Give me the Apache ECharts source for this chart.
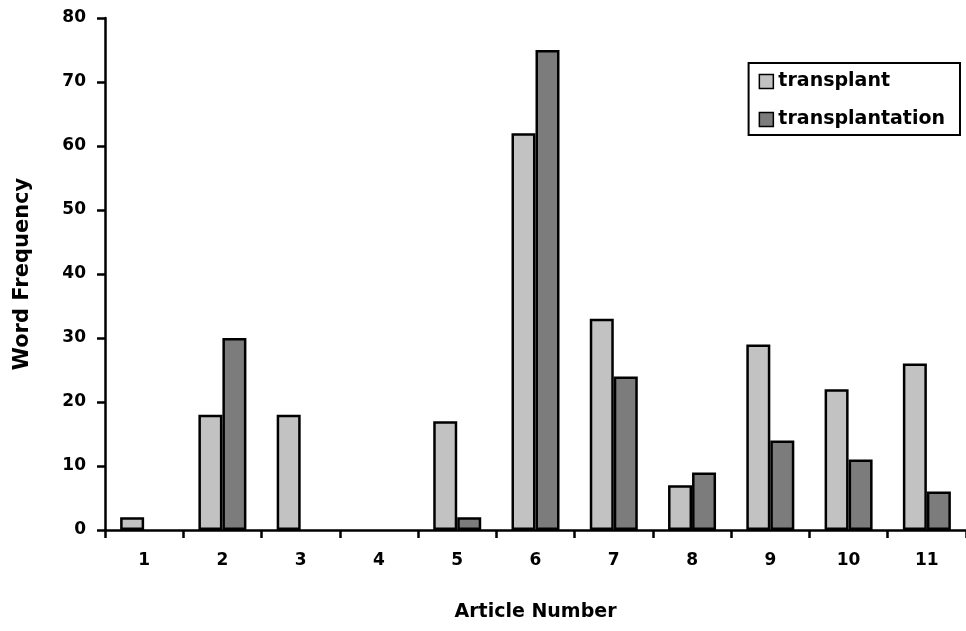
<!DOCTYPE html>
<html>
<head>
<meta charset="utf-8">
<script src="https://cdn.jsdelivr.net/npm/echarts@6/dist/echarts.min.js"></script>
<style>html,body{margin:0;padding:0;background:#fff;}#c{width:966px;height:631px;}</style>
</head>
<body>
<div id="c"></div>
<script>
const categories = ['1','2','3','4','5','6','7','8','9','10','11'];
const transplant = [2, 18, 18, 0, 17, 62, 33, 7, 29, 22, 26];
const transplantation = [0, 30, 0, 0, 2, 75, 24, 9, 14, 11, 6];
const yTicks = [0, 10, 20, 30, 40, 50, 60, 70, 80];

// zero-height bars are not drawn in the reference, so hide their outline
const toBarData = arr => arr.map(v => v === 0 ? {value: v, itemStyle: {borderWidth: 0, opacity: 0}} : v);

const font = '"DejaVu Sans", sans-serif';
const chart = echarts.init(document.getElementById('c'), null, {renderer: 'canvas'});
chart.setOption({
  animation: false,
  backgroundColor: '#fff',
  grid: {left: 105, right: -10, top: 18, bottom: 101, containLabel: false},
  legend: {
    right: 6, top: 63,
    orient: 'vertical',
    borderColor: '#000', borderWidth: 2,
    padding: [9, 15, 6, 10],
    itemGap: 19,
    itemWidth: 14, itemHeight: 14,
    icon: 'rect',
    textStyle: {fontFamily: font, fontWeight: 'bold', fontSize: 19, color: '#000', padding: [0,0,0,0]},
    data: [
      {name: 'transplant', itemStyle: {borderColor: '#000', borderWidth: 1.5}},
      {name: 'transplantation', itemStyle: {borderColor: '#000', borderWidth: 1.5}}
    ]
  },
  xAxis: {
    type: 'category',
    data: categories,
    name: 'Article Number',
    nameLocation: 'middle',
    nameGap: 73,
    nameTextStyle: {fontFamily: font, fontWeight: 'bold', fontSize: 19, color: '#000'},
    axisLine: {lineStyle: {color: '#000', width: 2.5}},
    axisTick: {show: true, alignWithLabel: false, length: 8, lineStyle: {color: '#000', width: 2.5}},
    axisLabel: {fontFamily: font, fontWeight: 'bold', fontSize: 17, color: '#000', margin: 22}
  },
  yAxis: {
    type: 'value',
    min: 0, max: 80, interval: 10,
    name: 'Word Frequency',
    nameLocation: 'middle',
    nameGap: 72,
    nameTextStyle: {fontFamily: font, fontWeight: 'bold', fontSize: 21, color: '#000'},
    axisLine: {show: true, lineStyle: {color: '#000', width: 2.5}},
    axisTick: {show: true, length: 8, lineStyle: {color: '#000', width: 2.5}},
    splitLine: {show: false},
    axisLabel: {fontFamily: font, fontWeight: 'bold', fontSize: 17, color: '#000', margin: 19,
      formatter: v => yTicks.includes(v) ? String(v) : ''}
  },
  series: [
    {name: 'transplant', type: 'bar', data: toBarData(transplant), barWidth: 24, barGap: '0%',
     itemStyle: {color: '#c2c2c2', borderColor: '#000', borderWidth: 2.5}},
    {name: 'transplantation', type: 'bar', data: toBarData(transplantation), barWidth: 24, barGap: '0%',
     itemStyle: {color: '#7c7c7c', borderColor: '#000', borderWidth: 2.5}}
  ]
});
</script>
</body>
</html>
